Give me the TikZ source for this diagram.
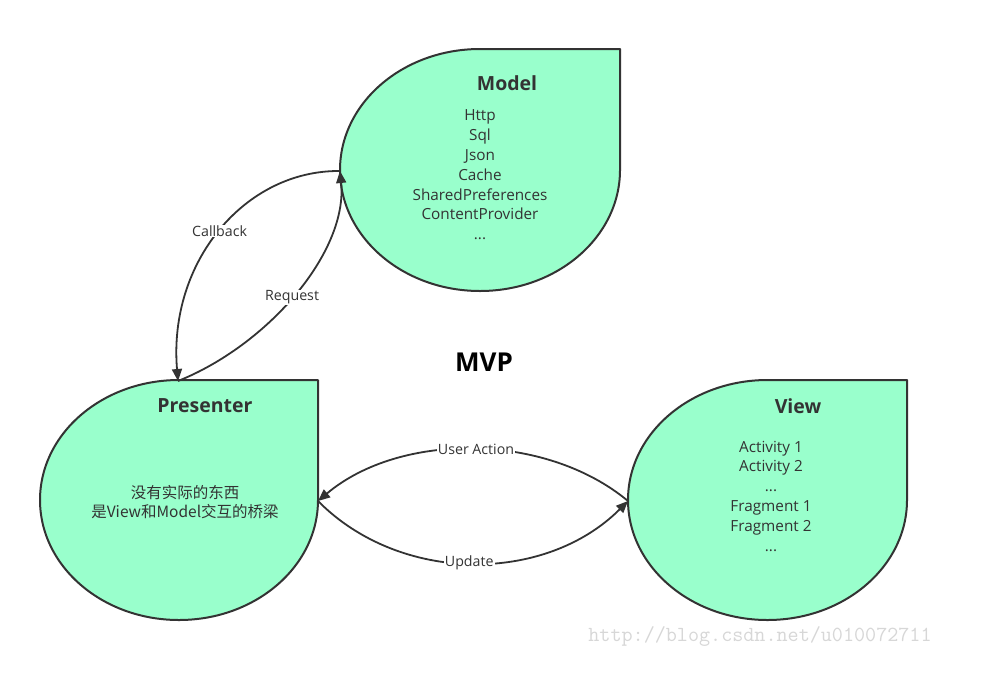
\documentclass[tikz,border=0pt]{standalone}
\usepackage{fontspec}
\setmainfont{Open Sans}
\newfontfamily\cjkfont{Noto Sans CJK SC}
\usetikzlibrary{arrows.meta}
\definecolor{leaffill}{RGB}{153,255,204}
\definecolor{ink}{RGB}{51,51,51}
\definecolor{wm}{RGB}{215,215,215}
\newcommand\leafshape[4]{% cx, cy, rx, ry
  \begin{scope}[shift={(#1,#2)},xscale=#3,yscale=#4]
    \draw[leafpath] (0,-1) -- (1,-1) -- (1,0)
      .. controls (1,0.5523) and (0.5523,1) .. (0,1)
      .. controls (-0.5523,1) and (-1,0.5523) .. (-1,0)
      .. controls (-1,-0.5523) and (-0.5523,-1) .. (0,-1) -- cycle;
  \end{scope}}
\begin{document}
\begin{tikzpicture}[x=1pt,y=-1pt,
  leafpath/.style={fill=leaffill,draw=ink,line width=2pt,line join=round},
  titletext/.style={font=\fontsize{19.5}{22}\selectfont\bfseries,text=ink},
  bodytext/.style={font=\fontsize{15.3}{19.8}\selectfont,text=ink,align=center},
  conn/.style={draw=ink,line width=1.8pt,-{Triangle[length=12pt,width=10pt]}},
  lbl/.style={font=\fontsize{14.2}{16}\selectfont,text=ink,fill=white,inner sep=1pt}]
\useasboundingbox (0,0) rectangle (981,683);
\fill[white] (0,0) rectangle (981,683);

% shapes
\leafshape{480}{170}{140}{121}
\leafshape{179}{500}{139}{120}
\leafshape{767.5}{500}{139.5}{120}

% anchor points
\coordinate (modelL) at (340,171);
\coordinate (presT) at (178,381);
\coordinate (presR) at (318,501);
\coordinate (viewL) at (628,501);

% texts
\node[titletext] (modeltitle) at (507,83) {Model};
\node[bodytext] (modelbody) at (480,175) {Http\\Sql\\Json\\Cache\\SharedPreferences\\ContentProvider\\...};
\node[titletext] (prestitle) at (205,406) {Presenter};
\node[font=\cjkfont\fontsize{15.5}{19}\selectfont,text=ink,align=center] (presbody) at (185,502) {没有实际的东西\\是View和Model交互的桥梁};
\node[titletext] (viewtitle) at (798,406) {View};
\node[bodytext] (viewbody) at (771,496) {Activity 1\\Activity 2\\...\\Fragment 1\\Fragment 2\\...};
\node[font=\fontsize{26}{30}\selectfont\bfseries,text=black] (mvp) at (484,362) {MVP};
\node[font=\ttfamily\fontsize{21.5}{24}\selectfont,text=wm] (watermark) at (760,636) {http://blog.csdn.net/u010072711};

% connectors
\draw[conn] (modelL) .. controls (245,170) and (168,262) .. node[lbl,pos=0.5] {Callback} (presT);
\draw[conn] (presT) .. controls (268,345) and (348,252) .. node[lbl,pos=0.48] {Request} (modelL);
\draw[conn] (viewL) .. controls (545,432) and (400,432) .. node[lbl,pos=0.49] {User Action} (presR);
\draw[conn] (presR) .. controls (400,584) and (545,584) .. node[lbl,pos=0.49] {Update} (viewL);
\end{tikzpicture}
\end{document}
